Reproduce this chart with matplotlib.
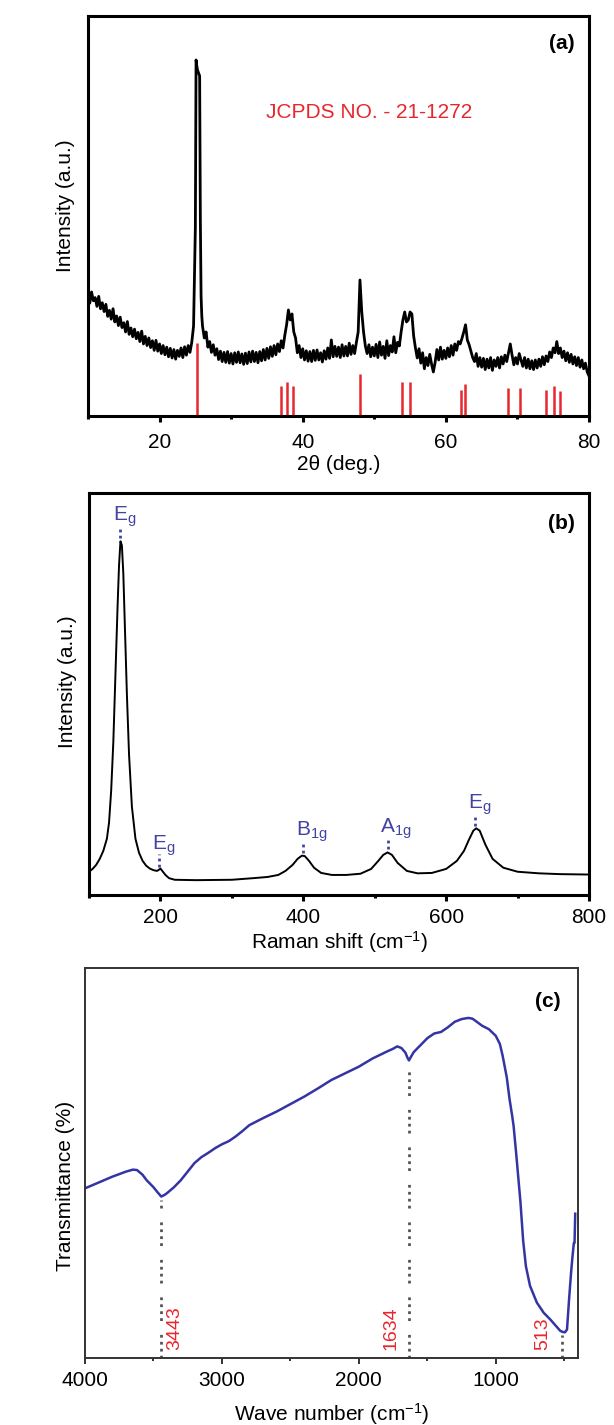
import numpy as np
import matplotlib.pyplot as plt
from matplotlib.ticker import MultipleLocator

plt.rcParams['font.family'] = ['Liberation Sans', 'DejaVu Sans']
plt.rcParams['mathtext.default'] = 'regular'

# ---- (a) XRD pattern, intensity in arbitrary units (0-100 of the frame) ----
xrd_2theta = np.concatenate([np.arange(40, 100) / 4,      # 10.00 .. 24.75
                             np.arange(250, 260) / 10,    # 25.0 .. 25.9
                             np.arange(104, 321) / 4])    # 26.00 .. 80.00
xrd_intensity = [
    30.5, 28.2, 31.0, 28.8, 29.6, 27.4, 29.9, 26.8, 28.3, 26.1, 27.9, 24.9,
    26.4, 24.2, 26.8, 23.5, 25.0, 22.6, 24.7, 22.1, 23.3, 21.0, 23.6, 20.4,
    22.0, 19.8, 21.7, 19.3, 20.9, 18.6, 21.2, 18.0, 19.9, 17.6, 19.5, 17.1,
    18.8, 16.4, 18.9, 16.2, 18.0, 15.6, 17.6, 15.3, 17.2, 14.8, 16.9, 14.5,
    16.6, 14.2, 16.4, 14.9, 17.0, 14.6, 17.3, 15.2, 17.6, 15.9, 18.4, 22.5,
    # main anatase (101) reflection
    47.0, 89.0, 87.5, 86.5, 86.0, 85.5, 85.0, 49.0, 30.0, 25.0,
    22.5, 19.5, 21.0, 17.2, 18.6, 15.9, 17.8, 15.2, 16.8, 14.1, 16.2, 13.6,
    15.9, 13.4, 16.1, 13.2, 15.6, 13.0, 15.8, 13.4, 16.0, 13.3, 15.5, 12.9,
    15.7, 13.1, 16.0, 13.5, 16.2, 13.6, 15.9, 13.3, 16.1, 13.8, 16.6, 14.0,
    16.9, 14.4, 17.3, 14.9, 17.6, 15.3, 18.0, 16.1, 18.8, 17.0, 20.2, 22.8,
    26.5, 24.0, 25.5, 21.0, 19.5, 15.8, 17.6, 14.6, 16.8, 14.0, 16.3, 13.7,
    16.1, 13.6, 16.4, 13.9, 16.5, 14.0, 15.8, 13.5, 16.3, 14.2, 17.0, 14.4,
    19.0, 14.8, 17.4, 14.9, 17.2, 14.6, 17.8, 15.0, 17.4, 15.0, 18.2, 15.4,
    17.6, 15.6, 18.4, 21.0, 34.0, 26.0, 21.0, 17.5, 15.6, 17.8, 14.8, 17.2,
    15.0, 17.9, 14.6, 18.5, 15.2, 17.4, 14.4, 18.8, 15.1, 17.6, 16.0, 19.8,
    15.8, 18.4, 17.5, 21.0, 24.0, 26.0, 23.5, 24.0, 26.0, 25.5, 20.0, 17.0,
    14.5, 16.8, 13.2, 15.8, 11.8, 14.6, 12.6, 15.4, 13.0, 11.0, 13.4, 16.6,
    14.0, 17.2, 14.2, 16.4, 14.4, 17.0, 14.8, 17.6, 15.2, 18.0, 16.4, 18.6,
    18.0, 19.4, 21.0, 22.8, 19.0, 17.8, 16.2, 14.6, 13.6, 15.6, 12.4, 14.6,
    12.2, 14.4, 11.6, 14.2, 12.0, 14.6, 11.4, 14.0, 12.4, 14.6, 12.0, 14.8,
    13.0, 15.2, 13.6, 15.8, 18.0, 15.2, 12.8, 14.6, 13.0, 15.6, 14.0, 12.4,
    14.6, 12.0, 14.2, 11.8, 13.8, 11.6, 14.0, 12.0, 14.2, 12.4, 14.8, 12.8,
    15.0, 13.6, 16.0, 14.6, 17.0, 15.8, 18.6, 15.6, 17.0, 14.6, 16.2, 13.8,
    15.8, 13.4, 15.4, 13.0, 14.8, 12.6, 14.6, 12.2, 14.0, 11.8, 13.2, 11.0,
    10.0,
]
jcpds_2theta = [25.3, 36.95, 37.8, 38.6, 48.05, 53.9, 55.05, 62.1, 62.7,
                68.75, 70.3, 74.05, 75.05, 76.0]
jcpds_height = [18.3, 7.5, 8.4, 7.5, 10.4, 8.4, 8.4, 6.5, 7.9,
                6.9, 6.9, 6.5, 7.5, 6.3]

# ---- (b) Raman spectrum ----
raman_shift = [100, 105, 110, 115, 120, 125, 128, 131, 134, 137, 140, 142,
               144, 146, 148, 150, 153, 156, 160, 165, 170, 175, 180, 185,
               190, 195, 198, 200, 203, 207, 212, 220, 250, 300, 330, 350,
               365, 375, 385, 392, 398, 402, 408, 415, 425, 440, 460, 480,
               495, 505, 512, 518, 524, 532, 545, 560, 580, 600, 615, 625,
               632, 638, 642, 647, 655, 665, 680, 700, 730, 760, 800]
raman_int = [5.8, 6.5, 7.5, 9.0, 11.0, 14.0, 18.0, 26.0, 38.0, 55.0, 72.0, 82.0,
             88.0, 87.0, 80.0, 68.0, 50.0, 35.0, 22.0, 14.0, 10.5, 8.5, 7.3, 6.6,
             6.2, 6.0, 6.3, 6.6, 5.9, 5.0, 4.2, 3.8, 3.7, 3.8, 4.2, 4.5,
             5.0, 6.0, 7.5, 9.0, 9.8, 9.7, 8.5, 6.8, 5.5, 5.0, 5.0, 5.3,
             6.5, 8.5, 10.0, 10.6, 10.0, 8.0, 6.0, 5.4, 5.5, 6.5, 8.5, 11.0,
             13.8, 16.0, 16.6, 16.0, 12.5, 9.0, 6.8, 5.8, 5.4, 5.2, 5.1]
raman_modes = ['E$_g$', 'E$_g$', 'B$_{1g}$', 'A$_{1g}$', 'E$_g$']
raman_mode_pos = [144, 198, 400, 518, 641]

# ---- (c) FTIR spectrum ----
ftir_wn = [4000, 3900, 3800, 3700, 3650, 3620, 3580, 3550, 3500, 3470, 3443,
           3420, 3400, 3350, 3300, 3250, 3200, 3150, 3100, 3050, 3000, 2950,
           2900, 2850, 2800, 2700, 2600, 2500, 2400, 2300, 2200, 2100, 2000,
           1900, 1800, 1750, 1720, 1690, 1660, 1645, 1634, 1620, 1600, 1570,
           1550, 1500, 1450, 1400, 1350, 1300, 1250, 1200, 1170, 1150, 1100,
           1050, 1000, 970, 950, 920, 900, 880, 870, 850, 835, 820, 800, 780,
           750, 700, 650, 600, 560, 530, 513, 495, 480, 465, 450, 440, 430,
           425, 420]
ftir_trans = [43.5, 45.0, 46.5, 47.8, 48.3, 48.2, 47.0, 45.6, 43.8, 42.5, 41.4,
              41.8, 42.3, 43.8, 45.6, 47.8, 50.0, 51.5, 52.6, 53.8, 54.8, 55.6,
              56.8, 58.2, 59.7, 61.5, 63.2, 65.1, 67.0, 69.1, 71.3, 73.0, 74.7,
              76.8, 78.5, 79.3, 79.9, 79.5, 78.3, 77.0, 76.3, 77.2, 78.4, 79.5,
              80.2, 82.0, 83.2, 83.6, 84.8, 86.2, 86.9, 87.2, 87.0, 86.5, 85.2,
              84.3, 82.6, 80.5, 77.5, 72.0, 66.5, 62.0, 59.5, 52.0, 46.0, 40.0,
              30.0, 23.5, 18.5, 14.2, 11.6, 9.8, 8.2, 7.0, 6.7, 6.6, 7.3, 15.0,
              22.0, 26.0, 29.5, 29.5, 37.0]
ftir_bands = [3443, 1634, 513]

RED = '#e8262d'
MODE_BLUE = '#4343a3'
FTIR_BLUE = '#3434a4'


def style_axes(ax, lw, color='black', pad=5):
    for sp in ax.spines.values():
        sp.set_linewidth(lw)
        sp.set_color(color)
    ax.tick_params(axis='x', which='major', direction='out', length=4,
                   width=lw, color=color, labelsize=15, pad=pad)
    ax.tick_params(axis='x', which='minor', direction='out', length=2.5,
                   width=lw, color=color)
    ax.tick_params(axis='y', which='both', left=False, labelleft=False)
    ax.set_ylim(0, 100)


fig = plt.figure(figsize=(6.14, 14.25), dpi=100)
ax_a = fig.add_axes([0.1433, 0.7081, 0.8160, 0.2807])
ax_b = fig.add_axes([0.1450, 0.3719, 0.8143, 0.2821])
ax_c = fig.add_axes([0.1384, 0.0470, 0.8029, 0.2737])

# (a) XRD
ax_a.plot(xrd_2theta, xrd_intensity, color='black', lw=2.0)
ax_a.vlines(jcpds_2theta, 0, jcpds_height, color=RED, lw=1.8)
style_axes(ax_a, 2.2, pad=8.5)
ax_a.set_xlim(10, 80)
ax_a.xaxis.set_major_locator(MultipleLocator(20))
ax_a.xaxis.set_minor_locator(MultipleLocator(10))
ax_a.set_xlabel('2θ (deg.)', fontsize=15, labelpad=2)
ax_a.set_ylabel('Intensity (a.u.)', fontsize=15)
ax_a.yaxis.set_label_coords(-0.025, 0.525)
ax_a.text(34.9, 75.8, 'JCPDS NO. - 21-1272', color=RED, fontsize=15,
          ha='left', va='center')
ax_a.text(0.972, 0.932, '(a)', transform=ax_a.transAxes, fontsize=15,
          fontweight='bold', ha='right', va='center')

# (b) Raman
ax_b.plot(raman_shift, raman_int, color='black', lw=1.4)
for label, pos in zip(raman_modes, raman_mode_pos):
    peak = np.interp(pos, raman_shift, raman_int)
    ax_b.plot([pos, pos], [peak + 0.8, peak + 3.8], color=MODE_BLUE, lw=2,
              ls=(0, (1, 1.2)))
    ax_b.text(pos - 10, peak + 5.0, label, color=MODE_BLUE, fontsize=15,
              ha='left', va='baseline')
style_axes(ax_b, 2.2)
ax_b.set_xlim(100, 800)
ax_b.xaxis.set_major_locator(MultipleLocator(200))
ax_b.xaxis.set_minor_locator(MultipleLocator(100))
ax_b.set_xlabel('Raman shift (cm$^{-1}$)', fontsize=15, labelpad=2)
ax_b.set_ylabel('Intensity (a.u.)', fontsize=15)
ax_b.yaxis.set_label_coords(-0.025, 0.53)
ax_b.text(0.972, 0.925, '(b)', transform=ax_b.transAxes, fontsize=15,
          fontweight='bold', ha='right', va='center')

# (c) FTIR
ax_c.plot(ftir_wn, ftir_trans, color=FTIR_BLUE, lw=1.8)
label_dx = [-95, 130, 145]   # axis runs from high to low wavenumber
for band, dx in zip(ftir_bands, label_dx):
    level = np.interp(band, ftir_wn[::-1], ftir_trans[::-1])
    ax_c.plot([band, band], [0, level - 0.8], color='#555555', lw=2,
              ls=(0, (1, 1.5, 1, 1.5, 1, 1.5, 1, 5)))
    ax_c.text(band + dx, 2.0, str(band), color=RED, fontsize=14,
              rotation=90, ha='center', va='bottom')
style_axes(ax_c, 1.4, '#333333')
ax_c.set_xlim(4000, 400)
ax_c.xaxis.set_major_locator(MultipleLocator(1000))
ax_c.xaxis.set_minor_locator(MultipleLocator(500))
ax_c.set_xlabel('Wave number (cm$^{-1}$)', fontsize=15, labelpad=8)
ax_c.set_ylabel('Transmittance (%)', fontsize=15)
ax_c.yaxis.set_label_coords(-0.02, 0.44)
ax_c.text(0.9655, 0.913, '(c)', transform=ax_c.transAxes, fontsize=15,
          fontweight='bold', ha='right', va='center')

fig.savefig('out.png', dpi=100)
